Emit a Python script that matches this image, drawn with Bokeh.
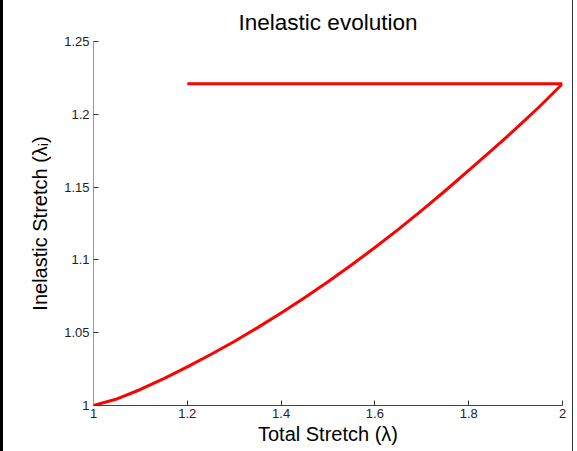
from bokeh.plotting import figure
from bokeh.models import Range1d, FixedTicker
from bokeh.embed import file_html
from bokeh.resources import INLINE

# Data
loading_x = [1.0, 1.05, 1.1, 1.15, 1.2, 1.25, 1.3, 1.35, 1.4, 1.45, 1.5,
             1.55, 1.6, 1.65, 1.7, 1.75, 1.8, 1.85, 1.9, 1.95, 2.0]
loading_y = [1.0000, 1.0045, 1.0110, 1.0185, 1.0265, 1.0350, 1.0440, 1.0535, 1.0635, 1.0740, 1.0850,
             1.0965, 1.1085, 1.1210, 1.1340, 1.1475, 1.1615, 1.1755, 1.1900, 1.2050, 1.2210]
unloading_x = [2.0, 1.2]
unloading_y = [1.221, 1.221]

x_ticks = [1.0, 1.2, 1.4, 1.6, 1.8, 2.0]
x_tick_labels = ["1", "1.2", "1.4", "1.6", "1.8", "2"]
y_ticks = [1.0, 1.05, 1.1, 1.15, 1.2, 1.25]
y_tick_labels = ["1", "1.05", "1.1", "1.15", "1.2", "1.25"]

FONT = "Liberation Sans"

p = figure(width=573, height=451, output_backend="svg", toolbar_location=None,
           x_range=Range1d(1, 2), y_range=Range1d(1, 1.25),
           min_border_left=90, min_border_right=14, min_border_top=41, min_border_bottom=46,
           title="Inelastic evolution")
p.styles = {"border-left": "3px solid black", "border-right": "1px solid #333333"}

p.line(loading_x, loading_y, line_color="#ff0000", line_width=3, line_join="round")
p.line(unloading_x, unloading_y, line_color="#ff0000", line_width=3)

p.title.align = "center"
p.title.text_font = FONT
p.title.text_font_size = "22.5px"
p.title.text_font_style = "normal"
p.title.text_color = "#000000"
p.title.standoff = 14

p.xgrid.visible = False
p.ygrid.visible = False
p.outline_line_color = None

p.xaxis.ticker = FixedTicker(ticks=x_ticks)
p.xaxis.major_label_overrides = {t: l for t, l in zip(x_ticks, x_tick_labels)}
p.yaxis.ticker = FixedTicker(ticks=y_ticks)
p.yaxis.major_label_overrides = {t: l for t, l in zip(y_ticks, y_tick_labels)}

for ax in (p.xaxis[0], p.yaxis[0]):
    ax.major_tick_in = 5
    ax.major_tick_out = 0
    ax.minor_tick_in = 0
    ax.minor_tick_out = 0
    ax.major_tick_line_color = "#333333"
    ax.major_label_text_font = FONT
    ax.major_label_text_font_size = "13px"
    ax.major_label_text_color = "#222222"
    ax.axis_label_text_font = FONT
    ax.axis_label_text_font_size = "20px"
    ax.axis_label_text_font_style = "normal"
    ax.axis_label_text_color = "#000000"

p.xaxis.axis_line_color = "#444444"
p.yaxis.axis_line_color = "#999999"
p.xaxis.axis_label = "Total Stretch (λ)"
p.yaxis.axis_label = "Inelastic Stretch (λᵢ)"
p.xaxis.major_label_standoff = 3
p.yaxis.major_label_standoff = 4
p.xaxis.axis_label_standoff = 2
p.yaxis.axis_label_standoff = 10

open("out.html", "w").write(file_html(p, INLINE))
